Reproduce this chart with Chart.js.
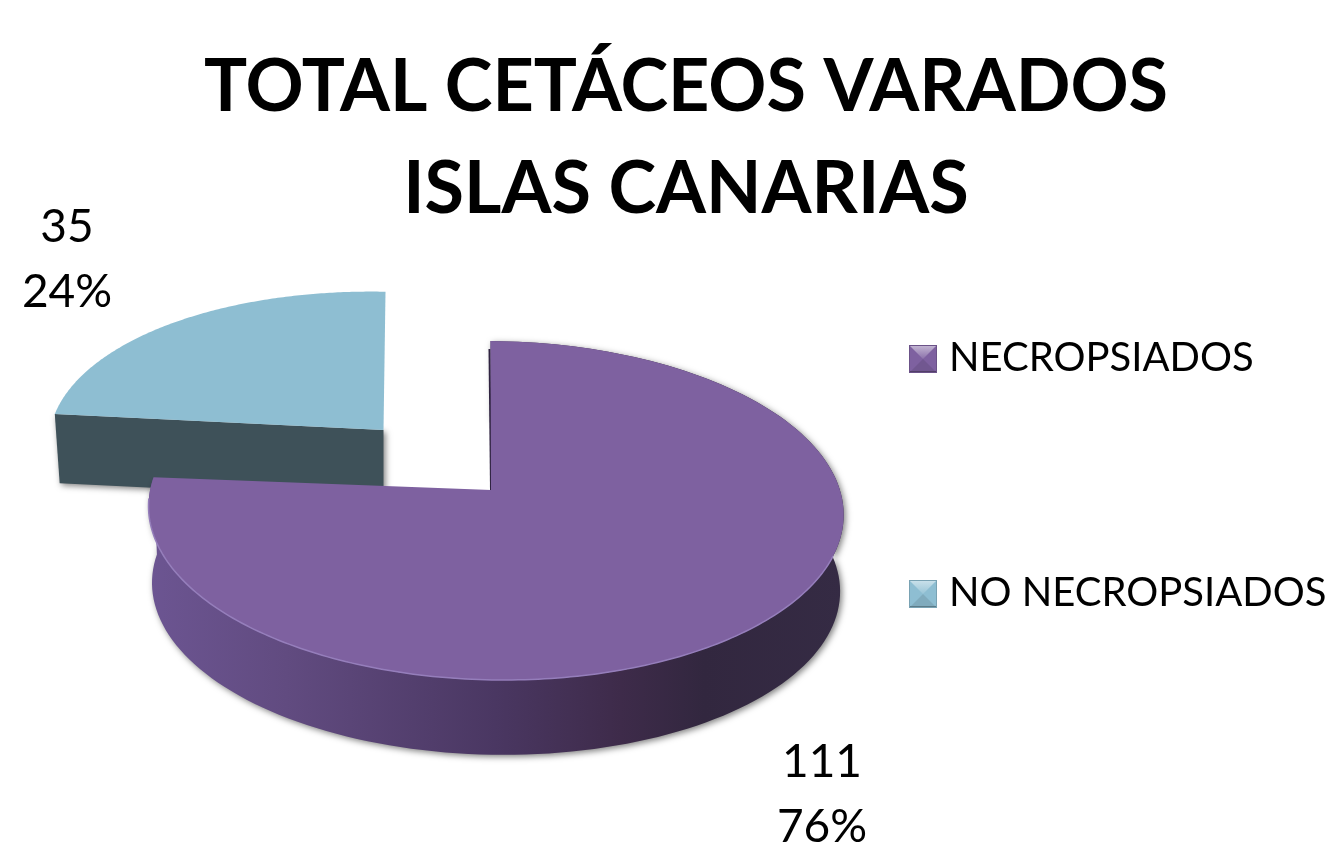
<!DOCTYPE html>
<html><head><meta charset="utf-8">
<style>html,body{margin:0;padding:0;background:#fff}canvas{display:block}</style>
<script src="https://cdn.jsdelivr.net/npm/chart.js@4"></script>
</head><body><canvas id="c" width="1330" height="846"></canvas>
<script>
const categories = ['NECROPSIADOS', 'NO NECROPSIADOS'];
const values = [111, 35];
const percentLabels = ['76%', '24%'];
const topColors = ['#7e61a0', '#8ebed2'];
const titleLines = ['TOTAL CETÁCEOS VARADOS', 'ISLAS CANARIAS'];

// Projection of each (exploded) slice onto the page: tilted disc with perspective
const tilt = [
  {cx:495.5, cy:490, rx:345, ry:167, k:0.121, skew:2, shear:5, apexDx:-4.5, depth:77},
  {cx:385.5, cy:430, rx:334, ry:155, k:0.121, skew:6, shear:0, apexDx:-2, depth:69}
];
const labelPos = [{x:822, y:[762,827]}, {x:67, y:[227,292]}];
const legendX = 909, legendY0 = 338, legendStep = 235, legendPad = 195;

function proj(g, a, r, z){
  const u = Math.cos(a)*r, v = Math.sin(a)*r, w = 1 - g.k*v;
  return {x: g.cx + g.rx*u/w + g.shear*v + g.apexDx*(1-r),
          y: g.cy + g.ry*v/w + g.skew*u + (z||0)};
}
function rim(ctx, g, a0, a1, r, z, first){
  const n = 160;
  for(let i=0;i<=n;i++){
    const p = proj(g, a0+(a1-a0)*i/n, r, z);
    if(i===0 && first) ctx.moveTo(p.x,p.y); else ctx.lineTo(p.x,p.y);
  }
}
function drawSlice(ctx, arc, g, i){
  const a0 = arc.startAngle, a1 = arc.endAngle;
  ctx.save();
  ctx.shadowColor='rgba(0,0,0,0.5)'; ctx.shadowBlur=6; ctx.shadowOffsetX=2; ctx.shadowOffsetY=2;
  if(i===0){
    const gr = ctx.createLinearGradient(148,0,843,0);
    gr.addColorStop(0,'#6c5592'); gr.addColorStop(0.2,'#614b80');
    gr.addColorStop(0.5,'#4a3762'); gr.addColorStop(0.68,'#3e2b4a');
    gr.addColorStop(0.8,'#32273f'); gr.addColorStop(1,'#352b44');
    ctx.fillStyle = gr;
    ctx.beginPath();
    rim(ctx,g,a0,a1,1,0,true);
    rim(ctx,g,a1,a0,0.99,g.depth,false);
    ctx.closePath(); ctx.fill();
    ctx.shadowColor='transparent';
    ctx.strokeStyle='#2f2340'; ctx.lineWidth=2;
    const t=proj(g,a0,1,0), c=proj(g,a0,0,0);
    ctx.beginPath(); ctx.moveTo(t.x-1,t.y+8); ctx.lineTo(c.x,c.y); ctx.stroke();
  } else {
    ctx.fillStyle = '#3e5159';
    const l=proj(g,a0,1,0), c=proj(g,a0,0,0), lb=proj(g,a0,0.985,g.depth), cb=proj(g,a0,0,g.depth);
    ctx.beginPath(); ctx.moveTo(l.x,l.y); ctx.lineTo(c.x,c.y); ctx.lineTo(cb.x,cb.y); ctx.lineTo(lb.x,lb.y); ctx.closePath(); ctx.fill();
  }
  ctx.restore();
  ctx.fillStyle = topColors[i];
  ctx.beginPath();
  const c = proj(g,a0,0,0);
  ctx.moveTo(c.x,c.y);
  rim(ctx,g,a0,a1,1,0,false);
  ctx.closePath(); ctx.fill();
  if(i===0){
    ctx.strokeStyle='#957ebb'; ctx.lineWidth=1.5;
    ctx.beginPath(); rim(ctx,g,Math.PI*0.12,Math.PI*0.98,1,0,true); ctx.stroke();
  }
}
function lighten(hex,t){
  const n=parseInt(hex.slice(1),16), f=s=>{const v=(n>>s)&255;return Math.round(t>0?v+(255-v)*t:v*(1+t));};
  return `rgb(${f(16)},${f(8)},${f(0)})`;
}
function bevelIcon(ctx,x,y,s,col){
  const q=(pts,c)=>{ctx.fillStyle=c;ctx.beginPath();pts.forEach((p,i)=>i?ctx.lineTo(x+p[0],y+p[1]):ctx.moveTo(x+p[0],y+p[1]));ctx.closePath();ctx.fill();};
  const m=s/2;
  ctx.fillStyle=col; ctx.fillRect(x,y,s,s);
  q([[0,s],[s,s],[m,m]],lighten(col,-0.1));
  const gr=ctx.createLinearGradient(0,y,0,y+m);
  gr.addColorStop(0,lighten(col,0.55)); gr.addColorStop(1,lighten(col,0.1));
  q([[0,0],[s,0],[m,m]],gr);
  ctx.fillStyle=lighten(col,-0.35); ctx.fillRect(x,y+s-2,s,2);
  ctx.strokeStyle=lighten(col,-0.15); ctx.lineWidth=1; ctx.strokeRect(x+.5,y+.5,s-1,s-1);
}
const pie3d = {
  id:'pie3d',
  afterLayout(chart){
    const L = chart.legend;
    L.left = legendX - legendPad; L.right = 1330;
    L.top = legendY0 - legendPad; L.bottom = 846;
    L.adjustHitBoxes();
  },
  beforeDatasetsDraw(chart){
    const ctx = chart.ctx, arcs = chart.getDatasetMeta(0).data;
    drawSlice(ctx, arcs[1], tilt[1], 1);
    drawSlice(ctx, arcs[0], tilt[0], 0);
    return false;
  },
  afterDraw(chart){
    const ctx = chart.ctx;
    chart.legend.legendHitBoxes.forEach((h,i)=>{
      bevelIcon(ctx, legendX, legendY0 + legendStep*i + 7, 28, topColors[i]);
    });
    ctx.save();
    ctx.fillStyle='#000'; ctx.textAlign='center'; ctx.textBaseline='middle';
    ctx.font='46px Lato';
    values.forEach((v,i)=>{
      ctx.fillText(String(v), labelPos[i].x, labelPos[i].y[0]);
      ctx.fillText(percentLabels[i], labelPos[i].x, labelPos[i].y[1]);
    });
    ctx.restore();
  }
};
new Chart(document.getElementById('c'), {
  type:'pie',
  data:{labels:categories, datasets:[{data:values, backgroundColor:topColors, borderWidth:0}]},
  options:{
    responsive:false, animation:false,
    layout:{padding:{left:42}},
    plugins:{
      tooltip:{enabled:false},
      title:{display:true, text:titleLines, color:'#000',
        font:{family:'Lato', size:72, weight:'bold', lineHeight:1.417}, padding:{top:37,bottom:0}},
      legend:{position:'right', align:'start', maxWidth:1000,
        labels:{color:'#000', font:{family:'Lato', size:40}, boxWidth:20, boxHeight:20, padding:legendPad}}
    }
  },
  plugins:[pie3d]
});
</script></body></html>
